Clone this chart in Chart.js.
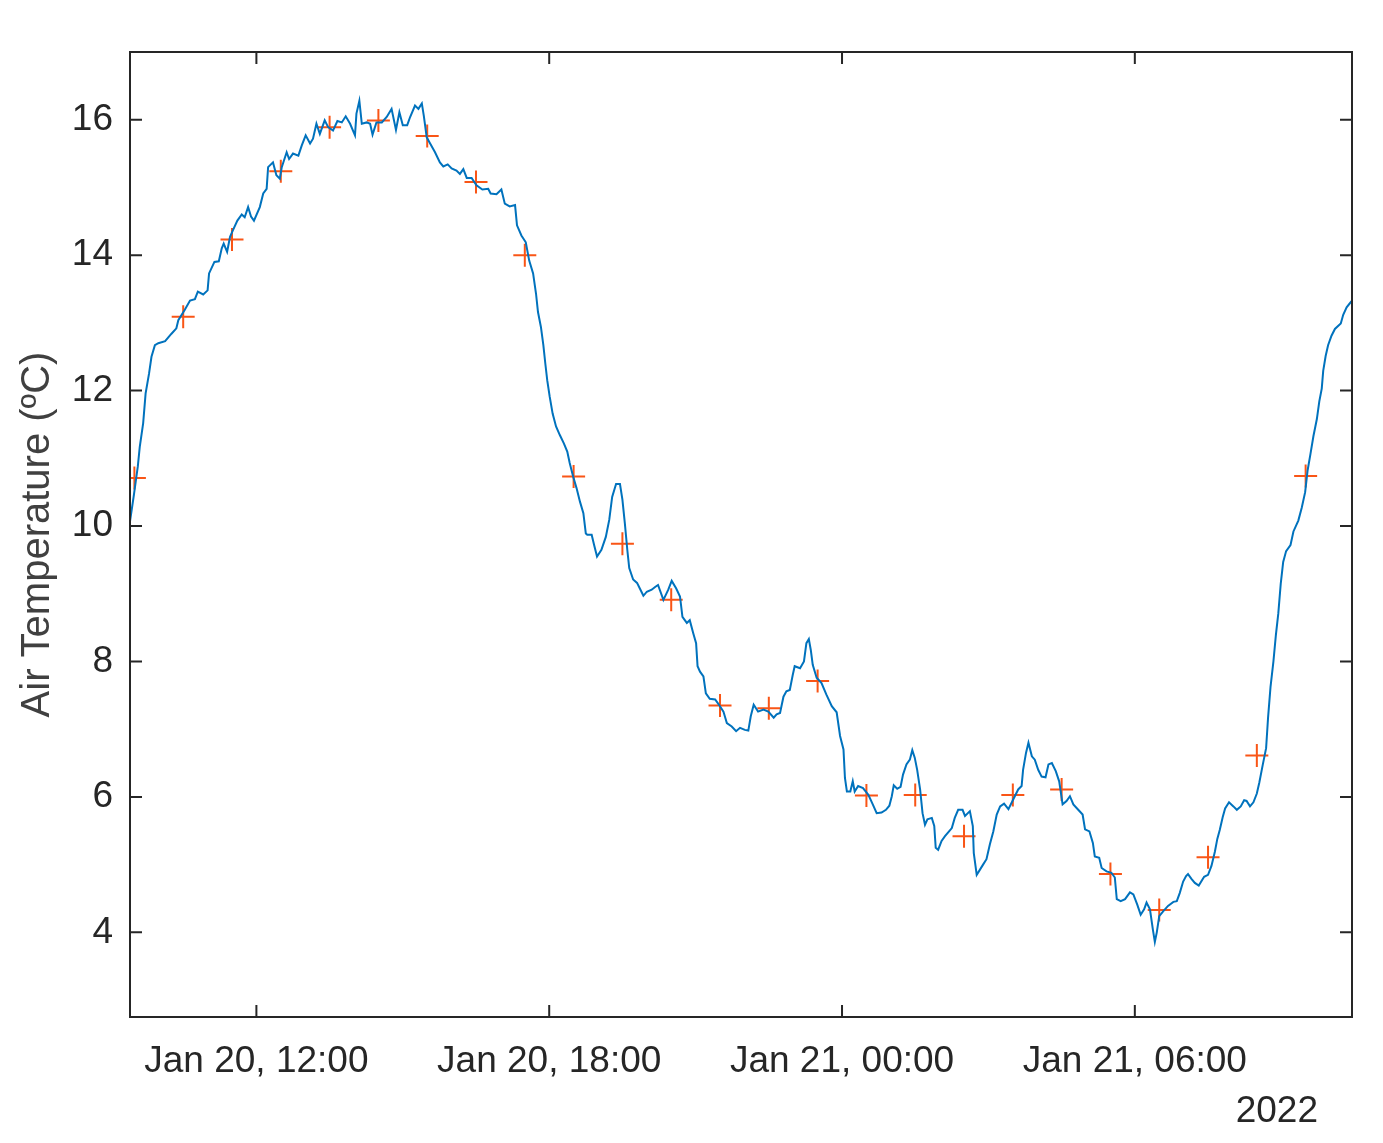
<!DOCTYPE html>
<html>
<head>
<meta charset="utf-8">
<script src="https://cdn.jsdelivr.net/npm/chart.js@4.4.1/dist/chart.umd.min.js"></script>
<style>
    body { margin: 0; background: #fff; }
    canvas { display: block; }
</style>
</head>
<body>
<canvas id="chart" width="1383" height="1143"></canvas>
<script>
// time axis: hours since Jan 20 2022, 00:00
const hoursSinceJan20 = [
    9.41, 9.49, 9.57, 9.61, 9.68, 9.73, 9.80, 9.85, 9.92, 9.99,
    10.13, 10.26, 10.36, 10.40, 10.53, 10.64, 10.74, 10.80, 10.91, 11.00,
    11.03, 11.14, 11.23, 11.29, 11.33, 11.40, 11.46, 11.52, 11.61, 11.70,
    11.76, 11.83, 11.89, 11.95, 12.07, 12.14, 12.21, 12.24, 12.34, 12.41,
    12.48, 12.52, 12.62, 12.67, 12.75, 12.86, 12.93, 13.01, 13.10, 13.16,
    13.23, 13.30, 13.40, 13.47, 13.57, 13.66, 13.75, 13.83, 13.92, 14.02,
    14.05, 14.11, 14.16, 14.26, 14.33, 14.38, 14.46, 14.57, 14.67, 14.77,
    14.86, 14.93, 15.00, 15.09, 15.15, 15.25, 15.32, 15.39, 15.43, 15.49,
    15.56, 15.66, 15.76, 15.83, 15.92, 16.00, 16.10, 16.17, 16.24, 16.31,
    16.41, 16.51, 16.63, 16.75, 16.80, 16.92, 17.02, 17.09, 17.19, 17.30,
    17.34, 17.43, 17.52, 17.59, 17.67, 17.73, 17.77, 17.83, 17.88, 17.92,
    17.96, 18.01, 18.07, 18.14, 18.22, 18.30, 18.37, 18.42, 18.49, 18.56,
    18.63, 18.70, 18.75, 18.78, 18.87, 18.92, 18.98, 19.07, 19.16, 19.23,
    19.29, 19.37, 19.45, 19.50, 19.55, 19.60, 19.64, 19.72, 19.80, 19.87,
    19.93, 20.00, 20.10, 20.17, 20.23, 20.34, 20.44, 20.51, 20.60, 20.68,
    20.73, 20.82, 20.88, 20.95, 21.01, 21.04, 21.09, 21.16, 21.21, 21.29,
    21.40, 21.48, 21.57, 21.64, 21.74, 21.83, 21.91, 22.01, 22.08, 22.13,
    22.19, 22.28, 22.39, 22.49, 22.60, 22.66, 22.73, 22.80, 22.86, 22.93,
    22.99, 23.03, 23.14, 23.22, 23.27, 23.32, 23.36, 23.40, 23.48, 23.58,
    23.68, 23.79, 23.89, 23.96, 24.03, 24.06, 24.10, 24.17, 24.22, 24.26,
    24.33, 24.43, 24.54, 24.63, 24.71, 24.81, 24.90, 24.97, 25.02, 25.06,
    25.13, 25.20, 25.25, 25.32, 25.39, 25.44, 25.49, 25.54, 25.60, 25.65,
    25.70, 25.75, 25.84, 25.89, 25.92, 25.97, 26.04, 26.11, 26.18, 26.25,
    26.31, 26.38, 26.47, 26.52, 26.62, 26.68, 26.70, 26.76, 26.83, 26.89,
    26.96, 27.03, 27.10, 27.17, 27.24, 27.32, 27.41, 27.50, 27.61, 27.68,
    27.71, 27.77, 27.82, 27.89, 27.95, 28.02, 28.09, 28.17, 28.23, 28.30,
    28.38, 28.45, 28.52, 28.60, 28.67, 28.74, 28.84, 28.93, 28.98, 29.07,
    29.14, 29.18, 29.27, 29.32, 29.42, 29.52, 29.59, 29.63, 29.71, 29.80,
    29.90, 29.97, 30.05, 30.12, 30.19, 30.24, 30.31, 30.37, 30.41, 30.45,
    30.50, 30.58, 30.68, 30.79, 30.86, 30.92, 30.99, 31.05, 31.09, 31.16,
    31.23, 31.31, 31.42, 31.50, 31.57, 31.64, 31.69, 31.74, 31.80, 31.85,
    31.93, 32.02, 32.09, 32.17, 32.24, 32.29, 32.36, 32.43, 32.50, 32.55,
    32.62, 32.69, 32.73, 32.78, 32.84, 32.89, 32.94, 32.99, 33.04, 33.10,
    33.19, 33.25, 33.35, 33.42, 33.49, 33.54, 33.60, 33.66, 33.73, 33.78,
    33.83, 33.86, 33.91, 33.96, 34.03, 34.10, 34.22, 34.27, 34.34, 34.44
];
const airTemp = [
    10.07, 10.46, 10.88, 11.17, 11.52, 11.96, 12.25, 12.50, 12.67, 12.70,
    12.73, 12.84, 12.92, 13.04, 13.19, 13.33, 13.35, 13.46, 13.42, 13.48,
    13.73, 13.90, 13.91, 14.10, 14.17, 14.05, 14.27, 14.37, 14.51, 14.60,
    14.56, 14.71, 14.57, 14.51, 14.71, 14.91, 14.98, 15.30, 15.37, 15.18,
    15.13, 15.30, 15.52, 15.42, 15.50, 15.47, 15.62, 15.77, 15.65, 15.72,
    15.94, 15.79, 15.99, 15.89, 15.84, 15.98, 15.96, 16.05, 15.94, 15.77,
    16.09, 16.28, 15.94, 15.96, 15.94, 15.78, 15.96, 15.96, 16.04, 16.16,
    15.85, 16.11, 15.92, 15.92, 16.04, 16.21, 16.16, 16.24, 16.06, 15.74,
    15.65, 15.52, 15.37, 15.31, 15.34, 15.28, 15.25, 15.20, 15.27, 15.14,
    15.14, 15.03, 14.97, 14.98, 14.91, 14.90, 14.97, 14.76, 14.72, 14.74,
    14.44, 14.29, 14.19, 13.92, 13.73, 13.43, 13.16, 12.94, 12.67, 12.40,
    12.15, 11.91, 11.66, 11.47, 11.34, 11.22, 11.10, 10.93, 10.73, 10.56,
    10.36, 10.19, 9.89, 9.87, 9.87, 9.72, 9.55, 9.65, 9.84, 10.09,
    10.43, 10.62, 10.62, 10.39, 10.04, 9.65, 9.38, 9.21, 9.16, 9.06,
    8.97, 9.03, 9.06, 9.10, 9.13, 8.91, 9.06, 9.19, 9.08, 8.96,
    8.66, 8.57, 8.61, 8.42, 8.27, 7.93, 7.85, 7.78, 7.53, 7.45,
    7.44, 7.36, 7.26, 7.09, 7.04, 6.97, 7.02, 6.99, 6.98, 7.19,
    7.36, 7.26, 7.29, 7.26, 7.17, 7.22, 7.24, 7.48, 7.56, 7.58,
    7.80, 7.93, 7.90, 8.00, 8.27, 8.33, 8.17, 7.95, 7.76, 7.68,
    7.51, 7.34, 7.25, 6.90, 6.70, 6.28, 6.08, 6.08, 6.23, 6.08,
    6.16, 6.13, 6.03, 5.89, 5.76, 5.77, 5.81, 5.87, 6.01, 6.17,
    6.12, 6.15, 6.33, 6.48, 6.55, 6.69, 6.58, 6.40, 6.11, 5.76,
    5.59, 5.67, 5.69, 5.57, 5.25, 5.22, 5.35, 5.42, 5.48, 5.54,
    5.69, 5.81, 5.81, 5.72, 5.79, 5.57, 5.17, 4.85, 4.93, 5.00,
    5.08, 5.30, 5.49, 5.74, 5.86, 5.90, 5.82, 5.95, 6.11, 6.16,
    6.40, 6.65, 6.80, 6.60, 6.55, 6.40, 6.30, 6.29, 6.48, 6.50,
    6.38, 6.23, 5.89, 5.94, 6.01, 5.89, 5.81, 5.74, 5.52, 5.49,
    5.32, 5.12, 5.10, 4.95, 4.90, 4.88, 4.81, 4.49, 4.46, 4.49,
    4.59, 4.56, 4.41, 4.26, 4.34, 4.44, 4.34, 4.04, 3.86, 4.00,
    4.24, 4.31, 4.39, 4.45, 4.46, 4.58, 4.75, 4.83, 4.86, 4.79,
    4.73, 4.69, 4.82, 4.85, 4.98, 5.19, 5.38, 5.51, 5.70, 5.83,
    5.92, 5.86, 5.81, 5.86, 5.95, 5.94, 5.86, 5.92, 6.05, 6.21,
    6.47, 6.72, 7.17, 7.62, 8.00, 8.39, 8.71, 9.15, 9.47, 9.63,
    9.72, 9.92, 10.08, 10.27, 10.50, 10.82, 11.07, 11.33, 11.58, 11.84,
    12.03, 12.29, 12.51, 12.67, 12.81, 12.91, 12.99, 13.12, 13.23, 13.32
];

// hourly samples (red crosses)
const sampleHours = [
    9.5, 10.5, 11.5, 12.5, 13.5, 14.5, 15.5, 16.5, 17.5, 18.5, 19.5, 20.5, 21.5,
    22.5, 23.5, 24.5, 25.5, 26.5, 27.5, 28.5, 29.5, 30.5, 31.5, 32.5, 33.5
];
const sampleTemp = [
    10.71, 13.09, 14.23, 15.24, 15.89, 15.99, 15.76, 15.08, 14.00, 10.73, 9.74, 8.91, 7.35,
    7.31, 7.71, 6.02, 6.03, 5.42, 6.03, 6.11, 4.86, 4.33, 5.11, 6.61, 10.74
];

const xTickHours = [12, 18, 24, 30];
const xTickLabels = ["Jan 20, 12:00", "Jan 20, 18:00", "Jan 21, 00:00", "Jan 21, 06:00"];
const yTickValues = [4, 6, 8, 10, 12, 14, 16];

const axisColor = "#262626";
const fontFamily = "'Liberation Sans', Arial, sans-serif";

// box around the axes, inward ticks on all four sides, year label
const boxPlugin = {
    id: "box",
    afterDraw(chart) {
        const ctx = chart.ctx;
        const area = chart.chartArea;
        const xs = chart.scales.x;
        const ys = chart.scales.y;
        const len = 12;
        ctx.save();
        ctx.strokeStyle = axisColor;
        ctx.lineWidth = 2;
        ctx.beginPath();
        xTickHours.forEach(h => {
            const px = xs.getPixelForValue(h);
            ctx.moveTo(px, area.bottom);
            ctx.lineTo(px, area.bottom - len);
            ctx.moveTo(px, area.top);
            ctx.lineTo(px, area.top + len);
        });
        yTickValues.forEach(v => {
            const py = ys.getPixelForValue(v);
            ctx.moveTo(area.left, py);
            ctx.lineTo(area.left + len, py);
            ctx.moveTo(area.right, py);
            ctx.lineTo(area.right - len, py);
        });
        ctx.stroke();
        ctx.strokeRect(area.left, area.top, area.right - area.left, area.bottom - area.top);

        ctx.fillStyle = axisColor;
        ctx.font = "37px " + fontFamily;
        ctx.textAlign = "right";
        ctx.textBaseline = "alphabetic";
        ctx.fillText("2022", area.right - 34, 1122);
        ctx.restore();
    }
};

const ctx = document.getElementById("chart").getContext("2d");

new Chart(ctx, {
    type: "line",
    data: {
        datasets: [
            {
                label: "Air temperature",
                data: hoursSinceJan20.map((h, i) => ({ x: h, y: airTemp[i] })),
                borderColor: "#0072BD",
                borderWidth: 2,
                pointRadius: 0,
                tension: 0
            },
            {
                label: "Hourly",
                data: sampleHours.map((h, i) => ({ x: h, y: sampleTemp[i] })),
                showLine: false,
                pointStyle: "cross",
                pointRadius: 11.5,
                pointBorderWidth: 2,
                borderColor: "#F95516",
                backgroundColor: "#F95516"
            }
        ]
    },
    plugins: [boxPlugin],
    options: {
        responsive: false,
        animation: false,
        layout: {
            padding: { left: 0, top: 52, right: 31, bottom: 0 }
        },
        plugins: {
            legend: { display: false },
            tooltip: { enabled: false }
        },
        scales: {
            x: {
                type: "linear",
                min: 9.41,
                max: 34.45,
                afterBuildTicks: scale => {
                    scale.ticks = xTickHours.map(v => ({ value: v }));
                },
                afterFit: scale => {
                    scale.height = 126;
                },
                grid: { display: false, drawTicks: false },
                border: { display: false },
                ticks: {
                    autoSkip: false,
                    maxRotation: 0,
                    padding: 23,
                    color: axisColor,
                    font: { family: fontFamily, size: 37 },
                    callback: value => xTickLabels[xTickHours.indexOf(value)]
                }
            },
            y: {
                type: "linear",
                min: 2.75,
                max: 17,
                afterBuildTicks: scale => {
                    scale.ticks = yTickValues.map(v => ({ value: v }));
                },
                afterFit: scale => {
                    scale.width = 130;
                },
                grid: { display: false, drawTicks: false },
                border: { display: false },
                ticks: {
                    padding: 17,
                    color: axisColor,
                    font: { family: fontFamily, size: 37 }
                },
                title: {
                    display: true,
                    text: "Air Temperature (ºC)",
                    color: "#404040",
                    padding: { top: 14, bottom: 0 },
                    font: { family: fontFamily, size: 40 }
                }
            }
        }
    }
});
</script>
</body>
</html>
